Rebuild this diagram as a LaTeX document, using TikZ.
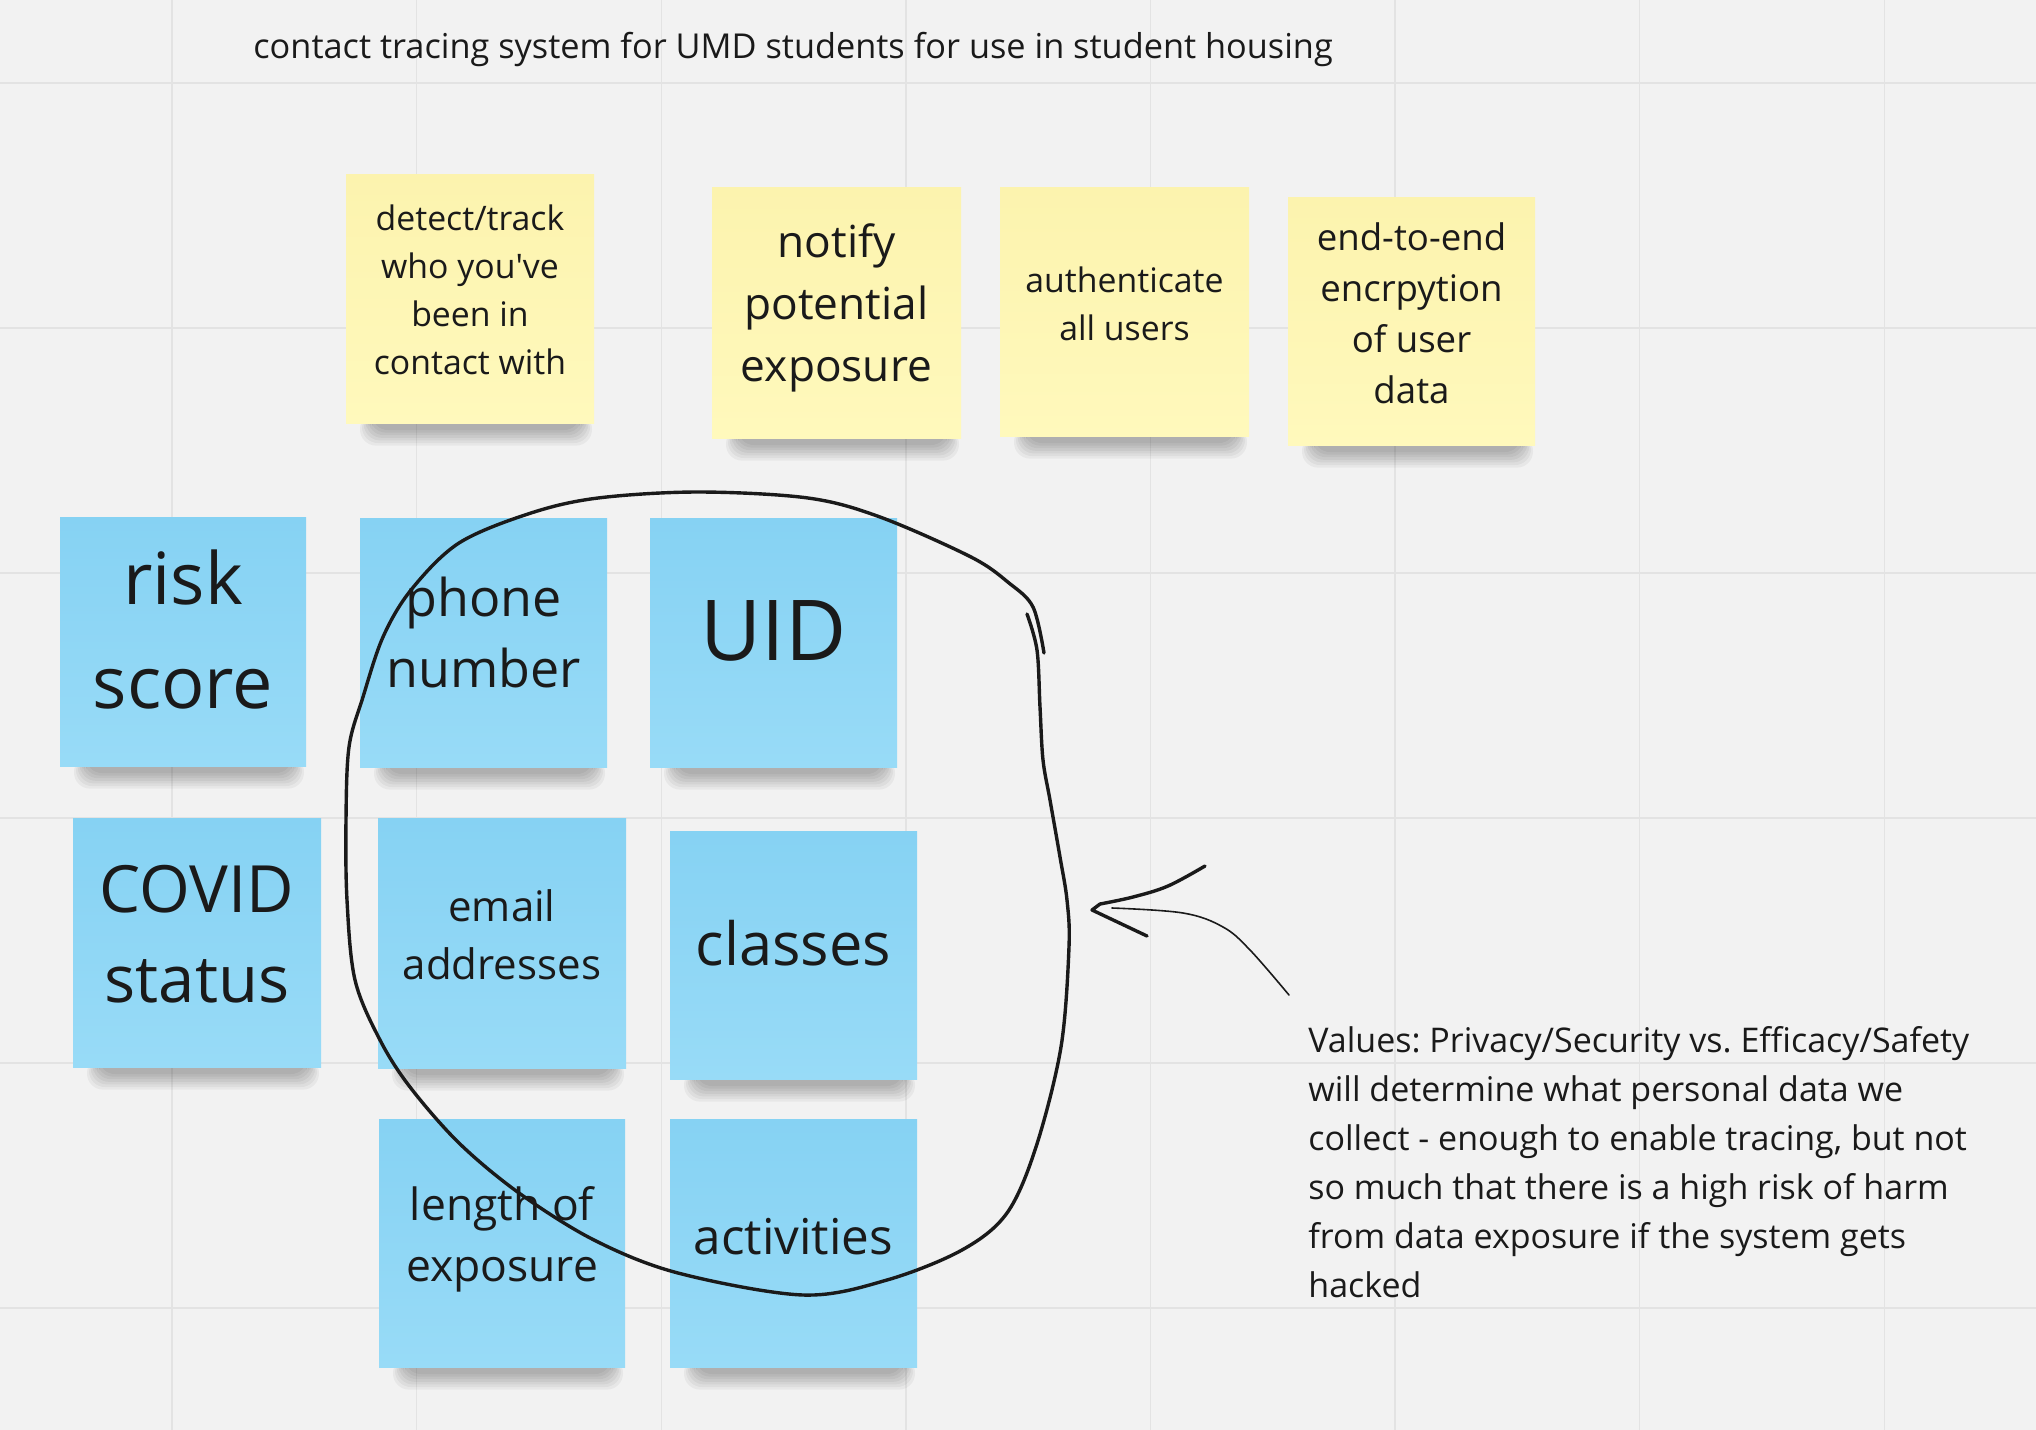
\documentclass[tikz,border=0pt]{standalone}
\usepackage{fontspec}
\setmainfont{Open Sans}
\frenchspacing
\definecolor{bg}{HTML}{F2F2F2}
\definecolor{gridc}{HTML}{E3E3E3}
\definecolor{ytop}{HTML}{FCF3AE}
\definecolor{ybot}{HTML}{FFF9BC}
\definecolor{btop}{HTML}{86D2F3}
\definecolor{bbot}{HTML}{98DBF7}
\definecolor{ink}{HTML}{1A1A1A}
% #1 name, #2 x1, #3 y1, #4 x2, #5 y2, #6 note style, #7 font, #8 text raise (px), #9 text
\newcommand\stickynote[9]{%
  \foreach \k in {0,...,6}{%
    \fill[black,opacity=0.045,rounded corners=8pt] ({#2+26-2*\k},{#5-10}) rectangle ({#4-14+2*\k},{#5+7+2.6*\k});
  }%
  \node[#6, minimum width={(#4-#2)*0.5pt}, minimum height={(#5-#3)*0.5pt}] (#1) at ({(#2+#4)/2},{(#3+#5)/2}) {};
  \node[notetext, font={#7}] (#1-text) at ([yshift=#8*0.5pt]#1.center) {#9};
}
\begin{document}
\begin{tikzpicture}[x=0.5pt,y=-0.5pt,
  notetext/.style={inner sep=0pt, align=center, text=ink},
  yellownote/.style={inner sep=0pt, top color=ytop, bottom color=ybot, draw=none},
  bluenote/.style={inner sep=0pt, top color=btop, bottom color=bbot, draw=none},
  inkline/.style={draw=ink, line width=1.7pt, line cap=round, line join=round},
  thinink/.style={draw=ink, line width=0.8pt, line cap=round},
  gridline/.style={draw=gridc, line width=0.7pt}]
\fill[bg] (0,0) rectangle (2036,1430);
\useasboundingbox (0,0) rectangle (2036,1430);
% grid
\foreach \gx in {172,416.6,661.2,905.8,1150.4,1395,1639.6,1884.2} {\draw[gridline] (\gx,0) -- (\gx,1430);}
\foreach \gy in {83,328,573,818,1063,1308} {\draw[gridline] (0,\gy) -- (2036,\gy);}
% title
\node[anchor=base west, inner sep=0pt, text=ink, font=\fontsize{17.15}{24}\selectfont] (title) at (253,58) {contact tracing system for UMD students for use in student housing};
% yellow notes
\stickynote{detect}{346}{174}{594}{423}{yellownote}{\fontsize{16.9}{24}\selectfont}{8.5}{detect/track\\who you\textquotesingle ve\\been in\\contact with}
\stickynote{notify}{712}{187}{961}{438}{yellownote}{\fontsize{22.1}{31}\selectfont}{5}{notify\\potential\\exposure}
\stickynote{auth}{1000}{187}{1249}{436}{yellownote}{\fontsize{16.9}{24}\selectfont}{8}{authenticate\\all users}
\stickynote{encrypt}{1288}{197}{1535}{445}{yellownote}{\fontsize{18.3}{25.5}\selectfont}{8}{end-to-end\\encrpytion\\of user\\data}
% blue notes
\stickynote{risk}{60}{517}{306}{766}{bluenote}{\fontsize{36}{52}\selectfont}{12}{risk\\score}
\stickynote{phone}{360}{518}{607}{767}{bluenote}{\fontsize{26}{35.5}\selectfont}{10}{phone\\number}
\stickynote{uid}{650}{518}{897}{767}{bluenote}{\fontsize{42}{50}\selectfont}{12}{UID}
\stickynote{covid}{73}{818}{321}{1067}{bluenote}{\fontsize{32.6}{45}\selectfont}{8}{COVID\\status}
\stickynote{email}{378}{818}{626}{1068}{bluenote}{\fontsize{21}{29}\selectfont}{8}{email\\addresses}
\stickynote{classes}{670}{831}{917}{1079}{bluenote}{\fontsize{29.8}{40}\selectfont}{12}{classes}
\stickynote{length}{379}{1119}{625}{1367}{bluenote}{\fontsize{22.2}{30.5}\selectfont}{4}{length of\\exposure}
\stickynote{activ}{670}{1119}{917}{1367}{bluenote}{\fontsize{24.7}{34}\selectfont}{6.5}{activities}
% hand-drawn loop
\draw[inkline] plot[smooth, tension=0.55] coordinates {(1044,653) (1033,607) (1009,583) (971,557) (880,517) (808,498) (698,492) (598,498) (531,513) (459,543) (411,590) (383,637) (363,697) (349,747) (346,820) (347,900) (355,980) (380,1040) (410,1087) (459,1143) (519,1193) (594,1240) (678,1273) (803,1295) (887,1280) (962,1250) (1007,1213) (1036,1147) (1061,1047) (1069,947) (1067,900) (1060,857) (1050,800) (1043,760) (1040,707) (1037,650) (1027,614)};
% arrow
\coordinate (tip) at (1092,910);
\draw[inkline] plot[smooth, tension=0.6] coordinates {(1205,866) (1168,886) (1133,897) (1100,904)} -- (tip) -- (1147,936);
\draw[thinink] plot[smooth, tension=0.6] coordinates {(1112,908) (1183,913) (1223,927) (1250,950) (1289,995)};
% values text
\node[anchor=north west, inner sep=0pt, align=left, text=ink, font=\fontsize{17}{24.5}\selectfont] (values) at (1308,1026) {Values: Privacy/Security vs. Efficacy/Safety\\will determine what personal data we\\collect - enough to enable tracing, but not\\so much that there is a high risk of harm\\from data exposure if the system gets\\hacked};
\end{tikzpicture}
\end{document}
